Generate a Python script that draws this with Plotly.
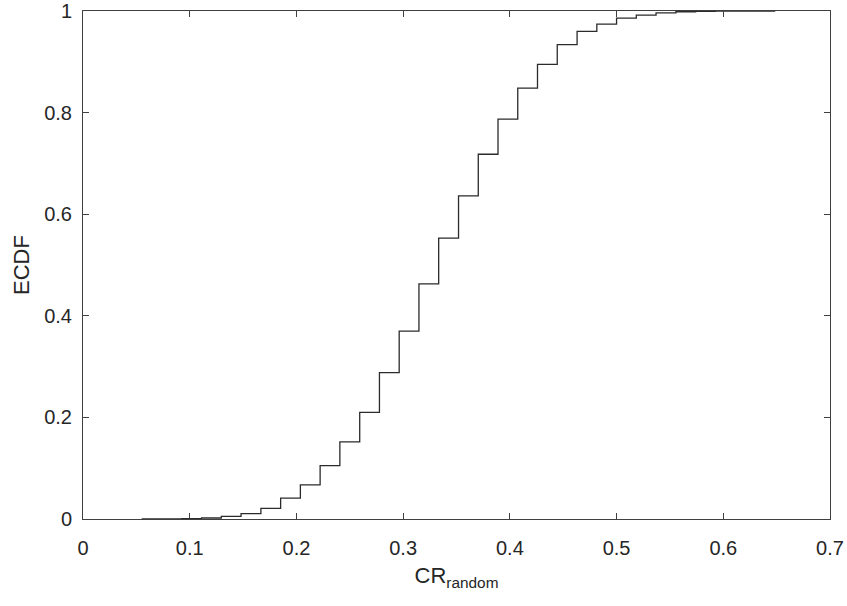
import plotly.graph_objects as go

# CR_random values (x, step positions)
cr_values = [0.0556, 0.0741, 0.0926, 0.1111, 0.1296, 0.1481, 0.1667, 0.1852,
             0.2037, 0.2222, 0.2407, 0.2593, 0.2778, 0.2963, 0.3148, 0.3333,
             0.3519, 0.3704, 0.3889, 0.4074, 0.4259, 0.4444, 0.4630, 0.4815,
             0.5000, 0.5185, 0.5370, 0.5556, 0.5741, 0.5926, 0.6111, 0.6296,
             0.6481]
# ECDF level after each step
ecdf_values = [0.0002, 0.0004, 0.0008, 0.002, 0.005, 0.0104, 0.021, 0.041,
               0.067, 0.105, 0.152, 0.21, 0.288, 0.37, 0.463, 0.553,
               0.636, 0.718, 0.787, 0.848, 0.895, 0.934, 0.960, 0.974,
               0.986, 0.992, 0.9965, 0.9985, 0.9993, 0.9997, 0.9999, 0.99995,
               1.0]

x_ticks = [0, 0.1, 0.2, 0.3, 0.4, 0.5, 0.6, 0.7]
x_tick_labels = ["0", "0.1", "0.2", "0.3", "0.4", "0.5", "0.6", "0.7"]
y_ticks = [0, 0.2, 0.4, 0.6, 0.8, 1.0]
y_tick_labels = ["0", "0.2", "0.4", "0.6", "0.8", "1"]

# MATLAB-style ecdf output: start at (min, 0) then the steps
xs = [cr_values[0]] + cr_values
ys = [0.0] + ecdf_values

font_family = "Liberation Sans, Arial, Helvetica, sans-serif"
text_color = "#262626"
axis_color = "#404040"

fig = go.Figure()
fig.add_trace(go.Scatter(
    x=xs, y=ys, mode="lines", line=dict(shape="hv", color="#2b2b2b", width=1.3),
    showlegend=False, hoverinfo="skip"))

fig.update_layout(
    width=847, height=606,
    margin=dict(l=83, r=17, t=11, b=87),
    paper_bgcolor="white", plot_bgcolor="white",
    font=dict(family=font_family, size=20, color=text_color),
)
fig.update_xaxes(
    range=[0, 0.7], tickvals=x_ticks, ticktext=x_tick_labels,
    showgrid=False, zeroline=False,
    showline=True, linecolor=axis_color, linewidth=1, mirror="ticks",
    ticks="inside", ticklen=6, tickcolor=axis_color, tickwidth=1,
    tickfont=dict(size=20, color=text_color), ticklabelstandoff=11,
    ticklabeloverflow="allow",
    title=dict(text="CR<sub>random</sub>", font=dict(size=22, color=text_color), standoff=9),
    automargin=False,
)
fig.update_yaxes(
    range=[0, 1], tickvals=y_ticks, ticktext=y_tick_labels,
    showgrid=False, zeroline=False,
    showline=True, linecolor=axis_color, linewidth=1, mirror="ticks",
    ticks="inside", ticklen=6, tickcolor=axis_color, tickwidth=1,
    tickfont=dict(size=20, color=text_color), ticklabelstandoff=6,
    ticklabeloverflow="allow",
    title=dict(text="ECDF", font=dict(size=22, color=text_color), standoff=8),
    automargin=False,
)

fig.write_html(
    "out.html",
    config={"displayModeBar": False},
    post_script="document.body.style.margin='0';document.body.style.overflow='hidden';",
)
